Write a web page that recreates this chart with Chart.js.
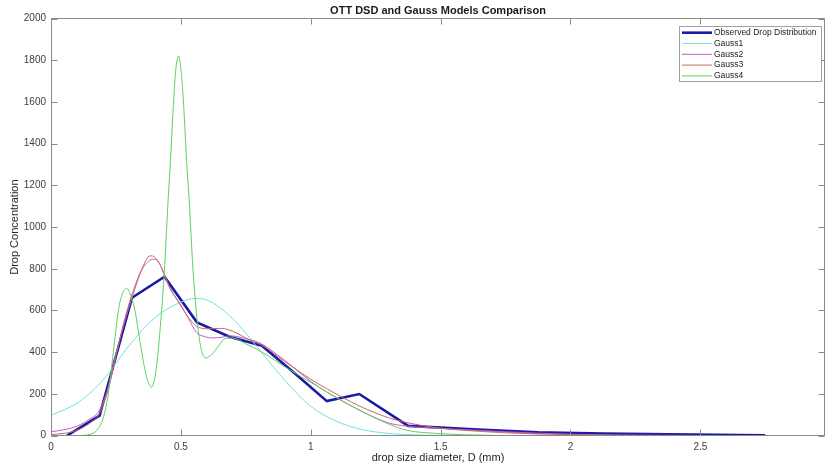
<!DOCTYPE html>
<html>
<head>
<meta charset="utf-8">
<script src="https://cdn.jsdelivr.net/npm/chart.js@4.4.0/dist/chart.umd.min.js"></script>
<style>
  html, body { margin: 0; padding: 0; background: #fff; }
</style>
</head>
<body>
<canvas id="dsdChart" width="825" height="467"></canvas>
<script>
// axis ticks
const xTicks = [0, 0.5, 1, 1.5, 2, 2.5];
const yTicks = [0, 200, 400, 600, 800, 1000, 1200, 1400, 1600, 1800, 2000];

const seriesNames = ['Observed Drop Distribution', 'Gauss1', 'Gauss2', 'Gauss3', 'Gauss4'];

// observed OTT Parsivel classes (mm) and concentration
const obsD = [0.062, 0.187, 0.312, 0.437, 0.562, 0.687, 0.812, 0.937, 1.062, 1.187, 1.375, 1.625, 1.875, 2.125, 2.375, 2.75];
const obsN = [0, 95, 661, 762, 543, 474, 431, 300, 165, 199, 46, 30, 15, 9, 6, 1];

// fitted curves
const g1D = [0, 0.1, 0.2, 0.3, 0.4, 0.5, 0.556, 0.6, 0.7, 0.8, 0.9, 1.0, 1.1, 1.2, 1.3, 1.4, 1.5, 1.7, 2.98];
const g1N = [97, 155, 265, 430, 565, 640, 657, 650, 560, 415, 265, 140, 68, 28, 10, 3, 1, 0, 0];

const g2D = [0, 0.05, 0.1, 0.15, 0.186, 0.22, 0.25, 0.28, 0.313, 0.35, 0.38, 0.4, 0.42, 0.436, 0.46, 0.496, 0.53, 0.56, 0.59, 0.624, 0.66, 0.688, 0.75, 0.81, 0.9, 1.0, 1.06, 1.1, 1.19, 1.3, 1.37, 1.5, 1.625, 1.75, 1.875, 2.0, 2.2, 2.5, 2.98];
const g2N = [18, 28, 45, 80, 120, 230, 390, 530, 665, 795, 840, 846, 820, 770, 700, 634, 560, 495, 475, 468, 472, 478, 465, 440, 360, 260, 210, 180, 120, 60, 45, 34, 26, 18, 11, 6, 2, 0, 0];

const g3D = [0, 0.05, 0.1, 0.15, 0.186, 0.22, 0.25, 0.28, 0.313, 0.35, 0.381, 0.4, 0.42, 0.436, 0.46, 0.496, 0.53, 0.56, 0.6, 0.656, 0.7, 0.765, 0.81, 0.9, 1.0, 1.06, 1.19, 1.3, 1.37, 1.5, 1.625, 1.75, 1.875, 2.0, 2.2, 2.5, 2.98];
const g3N = [5, 10, 25, 60, 105, 220, 380, 540, 680, 800, 862, 855, 820, 775, 705, 630, 565, 525, 512, 514, 500, 458, 435, 355, 270, 226, 140, 85, 62, 35, 22, 13, 7, 4, 1, 0, 0];

const g4D = [0, 0.1, 0.15, 0.18, 0.2, 0.22, 0.24, 0.26, 0.275, 0.291, 0.305, 0.323, 0.349, 0.368, 0.387, 0.405, 0.426, 0.436, 0.451, 0.46, 0.47, 0.48, 0.491, 0.5, 0.51, 0.522, 0.532, 0.547, 0.57, 0.595, 0.62, 0.645, 0.67, 0.7, 0.75, 0.81, 0.9, 1.0, 1.06, 1.19, 1.3, 1.37, 1.5, 1.6, 1.8, 2.98];
const g4N = [0, 0, 5, 30, 80, 195, 400, 605, 680, 706, 680, 600, 402, 282, 232, 320, 600, 780, 1130, 1320, 1560, 1750, 1821, 1760, 1600, 1320, 1130, 790, 474, 372, 390, 430, 465, 468, 440, 402, 330, 255, 210, 120, 55, 25, 9, 3, 0, 0];

const toPoints = (xs, ys) => xs.map((x, i) => ({ x, y: ys[i] }));

const FONT = '"Liberation Sans", Arial, Helvetica, sans-serif';

const gaussStyle = (label, color, order, xs, ys) => ({
  label,
  data: toPoints(xs, ys),
  borderColor: color,
  borderWidth: 1,
  pointRadius: 0,
  cubicInterpolationMode: 'monotone',
  order
});

// matlab style box, inner ticks and legend
const matlabAxes = {
  id: 'matlabAxes',
  afterDraw(chart) {
    const { ctx, chartArea: a, scales: { x, y } } = chart;
    const L = Math.round(a.left) + 0.5, R = Math.round(a.right) - 0.5;
    const T = Math.floor(a.top) + 0.5, B = Math.floor(a.bottom) + 0.5;
    ctx.save();
    ctx.strokeStyle = '#8a8a8a';
    ctx.lineWidth = 1;
    ctx.beginPath();
    ctx.rect(L, T, R - L, B - T);
    xTicks.forEach(v => {
      const px = Math.round(x.getPixelForValue(v)) + 0.5;
      ctx.moveTo(px, B); ctx.lineTo(px, B - 6);
      ctx.moveTo(px, T); ctx.lineTo(px, T + 6);
    });
    yTicks.forEach(v => {
      const py = Math.round(y.getPixelForValue(v)) + 0.5;
      ctx.moveTo(L, py); ctx.lineTo(L + 6, py);
      ctx.moveTo(R, py); ctx.lineTo(R - 6, py);
    });
    ctx.stroke();

    // legend
    const lx = 679.5, ly = 26.5, lw = 142, lh = 55;
    ctx.fillStyle = '#fff';
    ctx.fillRect(lx, ly, lw, lh);
    ctx.strokeStyle = '#a0a0a0';
    ctx.strokeRect(lx, ly, lw, lh);
    ctx.font = '8.5px ' + FONT;
    ctx.textBaseline = 'middle';
    chart.data.datasets.forEach((ds, i) => {
      const ry = ly + 6.2 + i * 10.8;
      ctx.strokeStyle = ds.borderColor;
      ctx.lineWidth = ds.borderWidth;
      ctx.beginPath();
      ctx.moveTo(lx + 2.5, ry); ctx.lineTo(lx + 32.5, ry);
      ctx.stroke();
      ctx.fillStyle = '#222';
      ctx.fillText(ds.label, lx + 34.5, ry);
    });
    ctx.restore();
  }
};

new Chart(document.getElementById('dsdChart'), {
  type: 'line',
  data: {
    datasets: [
      {
        label: seriesNames[0],
        data: toPoints(obsD, obsN),
        borderColor: '#1a1aa8',
        borderWidth: 2.6,
        pointRadius: 0,
        tension: 0,
        order: 5
      },
      gaussStyle(seriesNames[1], '#74e0e0', 4, g1D, g1N),
      gaussStyle(seriesNames[2], '#c858d0', 3, g2D, g2N),
      gaussStyle(seriesNames[3], '#c46a64', 2, g3D, g3N),
      gaussStyle(seriesNames[4], '#5ed25e', 1, g4D, g4N)
    ]
  },
  options: {
    responsive: false,
    animation: false,
    devicePixelRatio: 1,
    layout: { padding: 0 },
    plugins: {
      legend: { display: false },
      tooltip: { enabled: false },
      title: {
        display: true,
        fullSize: false,
        text: 'OTT DSD and Gauss Models Comparison',
        color: '#1a1a1a',
        font: { family: FONT, size: 11, weight: 'bold' },
        padding: { top: 4.8, bottom: 0.7 }
      }
    },
    scales: {
      x: {
        type: 'linear',
        min: 0,
        max: 2.98,
        grid: { display: false, drawTicks: false },
        border: { display: false },
        afterBuildTicks: s => { s.ticks = xTicks.map(v => ({ value: v })); },
        afterFit: s => { s.height = 31.5; },
        ticks: {
          padding: 6,
          color: '#404040',
          font: { family: FONT, size: 10 },
          callback: v => String(v)
        },
        title: {
          display: true,
          text: 'drop size diameter, D (mm)',
          color: '#262626',
          font: { family: FONT, size: 11 },
          padding: { top: 0, bottom: 2.4 }
        }
      },
      y: {
        min: 0,
        max: 2000,
        grid: { display: false, drawTicks: false },
        border: { display: false },
        afterBuildTicks: s => { s.ticks = yTicks.map(v => ({ value: v })); },
        afterFit: s => { s.width = 51; },
        ticks: {
          padding: 5,
          color: '#404040',
          font: { family: FONT, size: 10 },
          callback: v => String(v)
        },
        title: {
          display: true,
          text: 'Drop Concentration',
          color: '#262626',
          font: { family: FONT, size: 11 },
          padding: { top: 8.4, bottom: 0 }
        }
      }
    }
  },
  plugins: [matlabAxes]
});
</script>
</body>
</html>
